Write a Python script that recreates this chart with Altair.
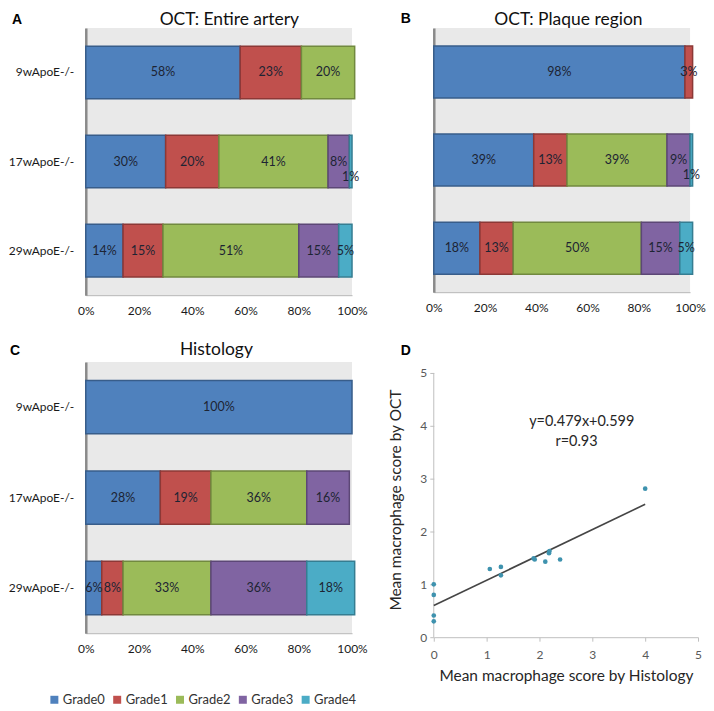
import altair as alt
import pandas as pd

# ---------------- data ----------------
groups = ["9wApoE-/-", "17wApoE-/-", "29wApoE-/-"]
grades = ["Grade0", "Grade1", "Grade2", "Grade3", "Grade4"]

entire_artery = [[58, 23, 20, 0, 0], [30, 20, 41, 8, 1], [14, 15, 51, 15, 5]]
plaque_region = [[98, 3, 0, 0, 0], [39, 13, 39, 9, 1], [18, 13, 50, 15, 5]]
histology = [[100, 0, 0, 0, 0], [28, 19, 36, 16, 0], [6, 8, 33, 36, 18]]
pct_ticks = [0, 20, 40, 60, 80, 100]

hist_score = [0, 0, 0, 0, 1.06, 1.27, 1.27, 1.89, 1.91, 2.11, 2.19, 2.18, 2.39, 4.0]
oct_score = [1.0, 0.8, 0.41, 0.3, 1.29, 1.33, 1.17, 1.49, 1.47, 1.43, 1.63, 1.59, 1.47, 2.81]
fit_slope = 0.479
fit_intercept = 0.599
fit_r = 0.93
fit_x = [0, 4]
score_ticks = [0, 1, 2, 3, 4, 5]

fill_colors = ["#4F81BD", "#C0504D", "#9BBB59", "#8064A2", "#4BACC6"]
stroke_colors = ["#385D8A", "#8C3836", "#71893F", "#5C4776", "#357D91"]

FONT = "Lato"
TEXT_DARK = "#1d2433"
BG = "#E9E9E9"
FS_BAR = 12.5
FS_AX = 12


def long_rows(rows):
    recs = []
    for g, vals in zip(groups, rows):
        for gi, (gr, v) in enumerate(zip(grades, vals)):
            if v > 0:
                recs.append({"group": g, "grade": gr, "gi": gi, "value": v})
    return pd.DataFrame(recs)


legend_def = alt.Legend(
    title=None, orient="none", legendX=-38, legendY=667, direction="horizontal",
    symbolType="square", symbolSize=64, symbolStrokeWidth=0,
    labelFont=FONT, labelFontSize=13, labelColor="#333333",
    columnPadding=5, labelOffset=2,
)


def text_chart(txt, x, y, size, bold=False, font=FONT, color="#111111"):
    return alt.Chart(pd.DataFrame({"t": [txt]})).mark_text(
        font=font, fontSize=size, fontWeight="bold" if bold else "normal",
        align="left" if bold else "center", baseline="top", color=color,
    ).encode(x=alt.value(x), y=alt.value(y), text="t:N")


def bar_panel(rows, title, title_x, title_y, letter, letter_x, letter_y, width, height, show_labels):
    src = alt.Chart(long_rows(rows)).transform_stack(
        stack="value", groupby=["group"], as_=["v0", "v1"],
        sort=[alt.SortField("gi", order="ascending")],
    ).transform_calculate(mid="(datum.v0 + datum.v1) / 2", label="datum.value + '%'")

    yaxis = alt.Axis(title=None, labels=show_labels, ticks=False, labelPadding=12,
                     labelFont=FONT, labelFontSize=FS_AX, labelColor="#1a1a1a",
                     domainColor="#8a8a8a", domainWidth=2.5, grid=False)
    xaxis = alt.Axis(title=None, values=pct_ticks, labelExpr="datum.value + '%'", ticks=False,
                     grid=False, domainColor="#b5b5b5", domainWidth=1, labelPadding=10,
                     labelFlush=False, labelFont=FONT, labelFontSize=FS_AX, labelColor="#1a1a1a")
    yscale = alt.Scale(paddingInner=0.41, paddingOuter=0.205)
    xscale = alt.Scale(domain=[0, 100], nice=False)

    bars = src.mark_bar(strokeWidth=1.5).encode(
        x=alt.X("v0:Q", scale=xscale, axis=xaxis),
        x2="v1:Q",
        y=alt.Y("group:N", sort=groups, scale=yscale, axis=yaxis),
        color=alt.Color("grade:N", scale=alt.Scale(domain=grades, range=fill_colors), legend=legend_def),
        stroke=alt.Stroke("grade:N", scale=alt.Scale(domain=grades, range=stroke_colors), legend=None),
        order=alt.Order("gi:Q", sort="ascending"),
    )
    labels = src.transform_filter("datum.value > 1").mark_text(
        font=FONT, fontSize=FS_BAR, color=TEXT_DARK).encode(
        x=alt.X("mid:Q", title=None), y=alt.Y("group:N", sort=groups, title=None), text="label:N")
    small = src.transform_filter("datum.value <= 1").mark_text(
        font=FONT, fontSize=FS_BAR, color=TEXT_DARK, dy=15).encode(
        x=alt.X("mid:Q", title=None), y=alt.Y("group:N", sort=groups, title=None), text="label:N")

    return alt.layer(
        bars, labels, small,
        text_chart(title, title_x, title_y, 17.5),
        text_chart(letter, letter_x, letter_y, 14, bold=True, font="Liberation Sans", color="#000000"),
    ).properties(width=width, height=height, view=alt.ViewBackground(fill=BG, stroke=None))


panel_a = bar_panel(entire_artery, "OCT: Entire artery", 144, -16.5, "A", -74, -15, 267, 268, True)
panel_b = bar_panel(plaque_region, "OCT: Plaque region", 135, -16.5, "B", -33, -16, 257, 265, False)
panel_c = bar_panel(histology, "Histology", 131, -21, "C", -76, -18, 267, 272, True)

# ---------------- panel D ----------------
D_W, D_H = 265, 276
ytop = 5 * D_H / 265.0
xs = alt.Scale(domain=[0, 5], nice=False)
ys = alt.Scale(domain=[0, ytop], nice=False)
XT = "Mean macrophage score by Histology"
YT = "Mean macrophage score by OCT"
xaxis_d = alt.Axis(title=XT, values=score_ticks, grid=False, tickSize=4, tickColor="#BFBFBF",
                   domainColor="#BFBFBF", labelColor="#595959", labelFont=FONT, labelFontSize=12,
                   labelPadding=8, labelFlush=False, titleFont=FONT, titleFontSize=15.5,
                   titleFontWeight="normal", titleColor="#262626", titlePadding=8)
yaxis_d = alt.Axis(title=YT, values=score_ticks, grid=False, domain=False, tickSize=4,
                   tickColor="#BFBFBF", labelColor="#595959", labelFont=FONT, labelFontSize=12,
                   labelPadding=3, labelFlush=False, titleFont=FONT, titleFontSize=15.5,
                   titleFontWeight="normal", titleColor="#262626", titlePadding=16)

pts = alt.Chart(pd.DataFrame({"hist": hist_score, "oct": oct_score})).mark_circle(
    size=22, color="#3E92AE", opacity=1).encode(
    x=alt.X("hist:Q", scale=xs, axis=xaxis_d, title=XT),
    y=alt.Y("oct:Q", scale=ys, axis=yaxis_d, title=YT))
fit = alt.Chart(pd.DataFrame({"hist": fit_x})).transform_calculate(
    oct=f"{fit_slope} * datum.hist + {fit_intercept}").mark_line(
    color="#454545", strokeWidth=1.6).encode(
    x=alt.X("hist:Q", title=XT), y=alt.Y("oct:Q", title=YT))
yline = alt.Chart(pd.DataFrame({"lo": [score_ticks[0]], "hi": [score_ticks[-1]]})).mark_rule(
    color="#BFBFBF").encode(x=alt.value(0), y=alt.Y("lo:Q", title=YT), y2="hi:Q")
eq1 = alt.Chart(pd.DataFrame({"t": [f"y={fit_slope}x+{fit_intercept}"]})).mark_text(
    font=FONT, fontSize=14.5, color="#262626", baseline="middle").encode(
    x=alt.datum(2.8), y=alt.datum(4.08), text="t:N")
eq2 = alt.Chart(pd.DataFrame({"t": [f"r={fit_r}"]})).mark_text(
    font=FONT, fontSize=14.5, color="#262626", baseline="middle").encode(
    x=alt.datum(2.7), y=alt.datum(3.70), text="t:N")

panel_d = alt.layer(
    yline, fit, pts, eq1, eq2,
    text_chart("D", -33, -18, 14, bold=True, font="Liberation Sans", color="#000000"),
).properties(width=D_W, height=D_H, view=alt.ViewBackground(fill="white", stroke=None))

chart = alt.concat(
    panel_a, panel_b, panel_c, panel_d,
    columns=2, spacing={"row": 67, "column": 82}, bounds="flush",
).properties(padding={"top": 2, "left": 0, "right": 0, "bottom": 0}).configure_view(stroke=None)

chart.save("out.html", embed_options={"renderer": "svg", "actions": False})
